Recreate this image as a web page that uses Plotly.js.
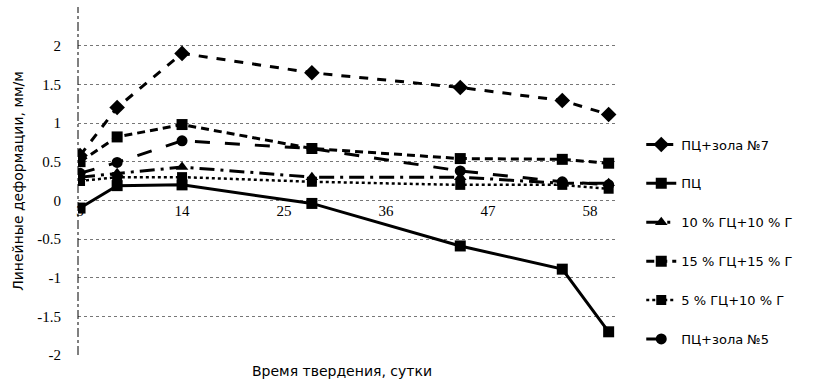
<!DOCTYPE html>
<html><head><meta charset="utf-8">
<script src="https://cdn.plot.ly/plotly-3.0.1.min.js"></script>
<style>body{margin:0;background:#fff}#c{width:814px;height:381px}</style>
</head><body><div id="c"></div>
<script>
const days = [3, 7, 14, 28, 44, 55, 60];
const tickVals = [3, 14, 25, 36, 47, 58];
const tickText = ["3", "14", "25", "36", "47", "58"];
const yTicks = [2.5, 2, 1.5, 1, 0.5, 0, -0.5, -1, -1.5, -2];
const yTickText = ["2.5", "2", "1.5", "1", "0.5", "0", "-0.5", "-1", "-1.5", "-2"];

const names = ["ПЦ+зола №7", "ПЦ", "10 % ГЦ+10 % Г", "15 % ГЦ+15 % Г", "5 % ГЦ+10 % Г", "ПЦ+зола №5"];
const zola7 = [0.58, 1.2, 1.9, 1.65, 1.46, 1.29, 1.11];
const pc = [-0.1, 0.19, 0.2, -0.04, -0.59, -0.89, -1.7];
const gc10 = [0.3, 0.35, 0.43, 0.3, 0.3, 0.22, 0.22];
const gc15 = [0.5, 0.82, 0.98, 0.67, 0.54, 0.53, 0.48];
const gc5 = [0.25, 0.3, 0.3, 0.24, 0.2, 0.2, 0.15];
const zola5 = [0.35, 0.49, 0.77, 0.67, 0.38, 0.24, 0.2];

const series = [zola7, pc, gc10, gc15, gc5, zola5];
const dashes = ["dash", "solid", "longdashdot", "8px,5px", "dot", "longdash"];
const symbols = ["diamond", "square", "triangle-up", "square", "square", "circle"];
const msizes = [12, 11, 11, 11, 10, 11];
const widths = [3, 3, 3, 3, 2.5, 3];

const traces = series.map((s, i) => ({
  x: days, y: s, name: names[i], type: "scatter", mode: "lines+markers",
  legendgroup: "g" + i,
  line: {color: "#000", width: widths[i], dash: dashes[i]},
  marker: {color: "#000", symbol: symbols[i], size: msizes[i]}
}));

const layout = {
  width: 814, height: 381,
  margin: {l: 78, r: 197, t: 7, b: 26},
  paper_bgcolor: "#fff", plot_bgcolor: "#fff",
  font: {family: "DejaVu Sans, sans-serif", color: "#000", size: 13},
  showlegend: true,
  legend: {x: 1.045, xanchor: "left", y: 0.648, yanchor: "top",
    font: {size: 13, family: "DejaVu Sans, sans-serif"},
    tracegroupgap: 19, bgcolor: "rgba(0,0,0,0)"},
  xaxis: {range: [2.78, 60.9], tickvals: tickVals, ticktext: tickText,
    anchor: "free", position: 2 / 4.5, showgrid: false, zeroline: false,
    showline: false, ticks: "", ticklabeloverflow: "allow",
    tickfont: {family: "Liberation Serif", size: 15}},
  yaxis: {range: [-2, 2.5], tickvals: yTicks, ticktext: yTickText,
    showgrid: true, gridcolor: "#777", griddash: "dot", gridwidth: 1,
    zeroline: false, showline: false, ticks: "", ticklabelstandoff: 16,
    tickfont: {family: "Liberation Serif", size: 15},
    title: {text: "Линейные деформации, мм/м", font: {size: 14, family: "DejaVu Sans"}, standoff: 10}},
  shapes: [{type: "line", xref: "paper", yref: "paper", x0: 0, x1: 0, y0: 0, y1: 1,
    line: {color: "#000", width: 1, dash: "dashdot"}}],
  annotations: [{text: "Время твердения, сутки", xref: "paper", yref: "paper",
    x: 0.49, y: 0, yshift: -16, showarrow: false, yanchor: "middle",
    font: {size: 14, family: "DejaVu Sans"}}]
};
Plotly.newPlot("c", traces, layout, {displayModeBar: false, staticPlot: true});
</script></body></html>
